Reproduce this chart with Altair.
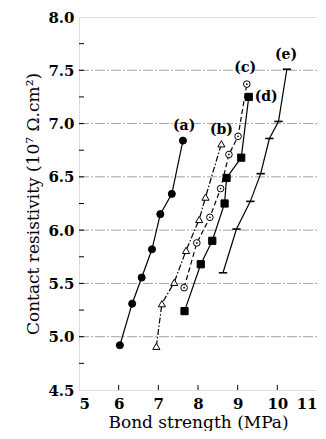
import altair as alt
import pandas as pd

# ---- data ----
a_x = [6.03, 6.34, 6.58, 6.84, 7.05, 7.34, 7.62]
a_y = [4.92, 5.31, 5.555, 5.82, 6.15, 6.34, 6.84]
b_x = [6.95, 7.09, 7.40, 7.70, 8.03, 8.19, 8.59]
b_y = [4.91, 5.31, 5.51, 5.81, 6.10, 6.31, 6.81]
c_x = [7.65, 7.97, 8.30, 8.57, 8.78, 9.01, 9.23]
c_y = [5.46, 5.88, 6.12, 6.39, 6.71, 6.88, 7.37]
d_x = [7.66, 8.07, 8.36, 8.67, 8.72, 9.09, 9.28]
d_y = [5.24, 5.68, 5.90, 6.25, 6.49, 6.68, 7.25]
e_x = [8.63, 8.97, 9.32, 9.58, 9.80, 10.03, 10.24]
e_y = [5.60, 6.01, 6.27, 6.53, 6.86, 7.02, 7.51]

label_text = ["(a)", "(b)", "(c)", "(d)", "(e)"]
label_x = [7.65, 8.59, 9.19, 9.72, 10.22]
label_y = [6.98, 6.94, 7.52, 7.25, 7.64]

x_ticks = [5, 6, 7, 8, 9, 10, 11]
y_ticks = [4.5, 5.0, 5.5, 6.0, 6.5, 7.0, 7.5, 8.0]
y_minor = [4.75, 5.0, 5.25, 5.5, 5.75, 6.0, 6.25, 6.5, 6.75, 7.0, 7.25, 7.5, 7.75]
grid_y = [5.0, 5.5, 6.0, 6.5, 7.0, 7.5]

W, H = 238, 373
SERIF = "DejaVu Serif"

xs = alt.Scale(domain=[5, 11], nice=False, zero=False)
ys = alt.Scale(domain=[4.5, 8.0], nice=False, zero=False)

x_axis = alt.Axis(values=x_ticks, format="d", ticks=False, domain=False, grid=False,
                  labelFont=SERIF, labelFontSize=15, labelFontWeight="bold", labelColor="black",
                  labelPadding=6, title="Bond strength (MPa)", titleFont=SERIF,
                  titleFontSize=17, titleFontWeight="normal", titleColor="black", titlePadding=3)
y_axis = alt.Axis(values=y_ticks, format=".1f", ticks=False, domain=False, grid=False,
                  labelFont=SERIF, labelFontSize=15, labelFontWeight="bold", labelColor="black",
                  labelPadding=5, title="Contact resistivity (10\u2077 \u03a9.cm\u00b2)",
                  titleFont=SERIF, titleFontSize=17, titleFontWeight="normal",
                  titleColor="black", titlePadding=5)

X = alt.X("x:Q", scale=xs, axis=x_axis)
Y = alt.Y("y:Q", scale=ys, axis=y_axis)

# gridlines
grid = alt.Chart(pd.DataFrame({"y": grid_y})).mark_rule(
    color="#8a8a8a", strokeWidth=0.8, strokeDash=[10, 2, 2, 2]
).encode(y=Y, x=alt.value(0), x2=alt.value(W))

# inward ticks
yt = alt.Chart(pd.DataFrame({"y": y_minor})).mark_rule(color="black", strokeWidth=1).encode(
    y=Y, x=alt.value(0), x2=alt.value(5))
xt = alt.Chart(pd.DataFrame({"x": x_ticks[1:-1]})).mark_rule(color="black", strokeWidth=1).encode(
    x=X, y=alt.value(H), y2=alt.value(H - 5))


def series(xv, yv, dash, shape, filled, size, sw=1.0):
    df = pd.DataFrame({"x": xv, "y": yv, "i": list(range(len(xv)))})
    base = alt.Chart(df)
    line_kw = dict(color="black", strokeWidth=1.2)
    if dash:
        line_kw["strokeDash"] = dash
    line = base.mark_line(**line_kw).encode(x=X, y=Y, order="i:Q")
    if shape == "stroke":
        pts = base.mark_point(shape="stroke", size=size, stroke="black", strokeWidth=1.6,
                              filled=False, opacity=1).encode(x=X, y=Y)
    elif filled:
        pts = base.mark_point(shape=shape, size=size, fill="black", stroke="black",
                              strokeWidth=sw, filled=True, opacity=1).encode(x=X, y=Y)
    else:
        pts = base.mark_point(shape=shape, size=size, fill="white", stroke="black",
                              strokeWidth=sw, filled=True, opacity=1).encode(x=X, y=Y)
    return [line, pts], base


la, _ = series(a_x, a_y, None, "circle", True, 50)
lb, _ = series(b_x, b_y, [6, 2, 1.5, 2], "triangle-up", False, 52)
lc, cbase = series(c_x, c_y, [5, 3], "circle", False, 44)
ld, _ = series(d_x, d_y, None, "square", True, 52)
le, _ = series(e_x, e_y, None, "stroke", False, 70)
cdot = cbase.mark_point(shape="circle", size=3, fill="black", filled=True, opacity=1).encode(x=X, y=Y)

labels = alt.Chart(pd.DataFrame({"x": label_x, "y": label_y, "t": label_text})).mark_text(
    font=SERIF, fontSize=14, fontWeight="bold", color="black", baseline="middle", align="center"
).encode(x=X, y=Y, text="t:N")

chart = alt.layer(grid, yt, xt, *la, *lb, *lc, cdot, *ld, *le, labels).properties(
    width=W, height=H,
    autosize=alt.AutoSizeParams(type="none"),
    padding={"left": 71, "top": 9, "right": 0, "bottom": 41},
).configure_view(stroke="black", strokeWidth=1.2).configure(background="white")

chart.save("out.html", embed_options={"renderer": "svg", "actions": False})
